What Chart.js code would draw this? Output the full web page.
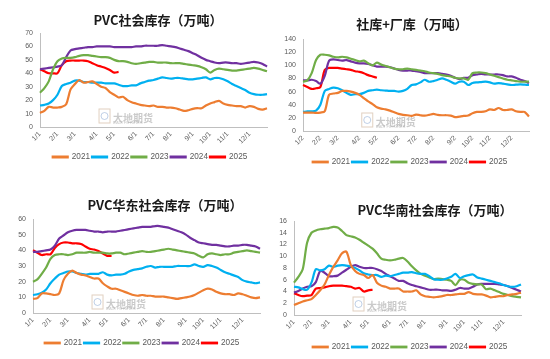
<!DOCTYPE html>
<html>
<head>
<meta charset="utf-8">
<script src="https://cdn.jsdelivr.net/npm/chart.js@4.4.1/dist/chart.umd.min.js"></script>
<style>
    html, body { margin: 0; padding: 0; background: #fff; }
    body { width: 550px; height: 359px; position: relative; overflow: hidden; }
    .cell { position: absolute; width: 275px; }
    .title {
        position: absolute; transform: translate(-50%, -50%); white-space: nowrap;
        font: bold 13px "Noto Sans CJK SC", sans-serif; color: #1a1a1a;
    }
</style>
</head>
<body>
<div class="cell" style="left:0;top:0;height:180px"><canvas id="social"></canvas></div>
<div class="cell" style="left:275px;top:0;height:180px"><canvas id="total"></canvas></div>
<div class="cell" style="left:0;top:180px;height:184px"><canvas id="east"></canvas></div>
<div class="cell" style="left:275px;top:180px;height:184px"><canvas id="south"></canvas></div>

<div class="title" style="left:158px;top:19px">PVC社会库存（万吨）</div>
<div class="title" style="left:412px;top:23px">社库+厂库（万吨）</div>
<div class="title" style="left:165px;top:204px">PVC华东社会库存（万吨）</div>
<div class="title" style="left:435px;top:209px">PVC华南社会库存（万吨）</div>

<script>
// ── Data ────────────────────────────────────────────────
const years = ['2021', '2022', '2023', '2024', '2025'];
const colors = ['#ED7D31', '#00B0F0', '#70AD47', '#7030A0', '#FF0000'];

const monthTicksA = ['1/1', '2/1', '3/1', '4/1', '5/1', '6/1', '7/1', '8/1', '9/1', '10/1', '11/1', '12/1'];
const monthTicksB = ['1/2', '2/2', '3/2', '4/2', '5/2', '6/2', '7/2', '8/2', '9/2', '10/2', '11/2', '12/2'];
const monthWeek = [0, 4, 8, 13, 17, 22, 26, 30, 35, 39, 43, 48];
const WEEKS = 53;

// PVC社会库存 (weekly)
const social2021 = [10.5, 12, 15, 14.5, 14.5, 15, 17, 28, 32, 35, 33, 33.5, 34, 32, 30, 29, 26, 24, 22, 22.5, 20, 18.5, 17.5, 16.5, 16, 15.5, 16, 15, 15, 14.5, 14.5, 14, 13, 12, 12.5, 13.5, 14, 14, 16, 17.5, 18.5, 19.5, 17.5, 16.5, 16, 15.5, 15.5, 14.5, 15.5, 15, 13.5, 13, 14];
const social2022 = [16, 16.5, 17.5, 20, 24, 30.5, 32, 33, 34.5, 34.5, 33.5, 33.5, 33, 33, 33, 32.5, 32.5, 32.5, 31.5, 30.5, 30.5, 31, 31, 32.5, 33.5, 34.5, 35, 36, 37, 36.5, 36, 36.5, 36.5, 36, 35.5, 35.5, 36, 36.5, 37, 35.5, 36.5, 36.5, 35.5, 34, 32, 30.5, 29, 27.5, 25.5, 24.5, 24, 24, 24.5];
const social2023 = [25.5, 29, 34, 43, 49, 51, 51.5, 51.5, 52, 53, 53.5, 53.5, 53, 52.5, 52, 52, 51.5, 50, 49, 49, 48.5, 47.5, 47, 47.5, 48, 48.5, 48.5, 48, 48, 48, 47.5, 47.5, 47.5, 47, 46.5, 46, 45.5, 44.5, 43, 40.5, 42.5, 43.5, 43, 42.5, 42, 42, 42.5, 43, 43.5, 44, 43.5, 42.5, 41.5];
const social2024 = [43, 43.5, 44, 44.5, 45, 46, 52, 57, 58, 58.5, 59, 59.5, 59.5, 60, 60, 60, 60, 59.5, 59.5, 59.5, 59.5, 59.5, 60, 60, 60.5, 60.5, 60.5, 60.5, 61, 60.5, 60, 59.5, 58.5, 57.5, 56.5, 55, 53.5, 51.5, 50, 49, 48, 47.5, 48, 48, 47.5, 47.5, 47, 47.5, 48, 48.5, 48, 47, 45];
const social2025 = [43, 41.5, 40, 40, 40, 46, 49, 49.5, 49.5, 49.5, 49.5, 49, 47.5, 46, 45, 44, 42.5, 40.5, 41];

// 社库+厂库 (weekly)
const total2021 = [28, 28, 28, 27.5, 28, 30, 55, 57, 58, 61, 61, 60, 58, 55, 50, 45, 41, 36, 34, 33, 31, 28.5, 26, 24.5, 24, 23, 25, 24, 23.5, 24.5, 26, 24.5, 24, 24, 23.5, 21, 22, 23, 23.5, 27, 29, 29, 30, 33, 32, 35, 32, 32, 33, 30, 29, 29, 22];
const total2022 = [29, 30, 30, 31, 40, 61, 64, 66, 65, 62, 58, 55, 56, 56, 58, 61, 62, 63, 62, 61.5, 61, 61, 60, 61, 64, 70, 71, 74, 78, 75, 76, 78, 80, 78, 75, 72, 75, 75, 70, 73, 74, 74.5, 75, 74, 72, 73, 72, 71, 70, 70.5, 71, 70.5, 70];
const total2023 = [75, 77, 88, 108, 116, 116, 115, 113, 112, 113, 112, 110, 108, 106, 107, 103, 100, 104, 101, 99, 97, 95, 94, 94, 95, 94, 93, 92, 91, 89, 88, 87, 85, 84, 83, 81, 80, 80, 78, 88, 89, 89, 88, 86, 84, 82, 80, 78, 77, 76, 75, 75, 75];
const total2024 = [77, 77, 78, 76, 72, 84, 107, 109, 108, 107, 108, 106, 104, 103, 103, 102, 100, 98, 98, 98, 97, 95, 93, 92, 92, 92, 91, 90, 88, 88, 88, 88, 87, 86, 84, 81, 79, 81, 81, 85, 86, 87, 86, 86, 86, 86, 85, 83, 83, 81, 78, 76, 73];
const total2025 = [70, 67, 64, 65, 67, 93, 96, 96, 96, 95, 94, 93, 91, 90, 88, 85, 83, 81];

// PVC华东社会库存 (weekly)
const east2021 = [9, 9.5, 12.5, 12.5, 12, 11.5, 12.5, 21, 25, 27, 25.5, 24.5, 24, 23, 22, 22, 19, 17, 15.5, 15.5, 14.5, 13.5, 12.5, 11.5, 11, 11.5, 11, 11, 10.5, 10.5, 10.5, 10, 9.5, 9, 9.5, 10, 10.5, 11.5, 13, 14.5, 15.5, 15, 13.5, 12.5, 12, 12, 11.5, 12.5, 12, 11, 10, 9.5, 10];
const east2022 = [11.5, 12, 13, 15, 19, 22, 24.5, 25.5, 26.5, 26.5, 25.5, 25, 24.5, 25, 25, 25, 26, 24.5, 24, 24.5, 24.5, 25, 26.5, 27.5, 28, 28.5, 29.5, 30, 29, 29.5, 29.5, 29.5, 29.5, 30, 30, 30, 30, 31, 30, 29.5, 30.5, 30, 29, 27.5, 26, 25, 24, 23, 21, 20, 19.5, 19, 19.5];
const east2023 = [20, 21.5, 25, 29, 34.5, 37, 37.5, 37.5, 37, 37.5, 38.5, 38.5, 38.5, 39, 38.5, 38.5, 38.5, 38, 38, 38.5, 38.5, 37.5, 38, 38.5, 39, 39.5, 39, 39, 39.5, 40, 40.5, 41, 40.5, 40, 39.5, 39, 38.5, 38, 36.5, 35.5, 37.5, 38, 37.5, 37, 37.5, 37.5, 38.5, 39, 39.5, 40, 39.5, 39, 38.5];
const east2024 = [39, 39, 39.5, 40, 40.5, 43, 47.5, 49.5, 51.5, 52.5, 53, 53, 53, 52.5, 52, 52, 51.5, 52, 52, 52, 52.5, 53, 53.5, 54, 54.5, 55, 55, 55, 55.5, 55.5, 55, 54.5, 53.5, 52.5, 51.5, 50, 48, 46.5, 45, 44.5, 44, 43.5, 43.5, 43, 42.5, 42.5, 43, 43, 43.5, 43.5, 43, 42.5, 41];
const east2025 = [40, 38.5, 37, 37.5, 37.5, 41.5, 44, 45, 45, 44.5, 44.5, 44, 42.5, 41, 40.5, 39.5, 38, 36.5, 36.5];

// PVC华南社会库存 (weekly)
const south2021 = [1.7, 2, 2.3, 2.5, 2.7, 3.4, 4.2, 5.2, 6.8, 8.2, 9.3, 10.5, 10.8, 8.5, 7.5, 7, 6.8, 6.3, 6.8, 5.5, 5, 4.8, 4.5, 4.5, 4.5, 4, 4, 4, 4.2, 3.5, 3.2, 3.1, 3, 3.1, 3.2, 3.4, 3.4, 3.5, 3.6, 3.6, 3.9, 3.6, 3.5, 3.5, 3.3, 3, 3.1, 3.2, 3.2, 3.4, 3.5, 3.6, 3.8];
const south2022 = [4.8, 4.7, 4.4, 4.3, 5.5, 7.8, 7.6, 7.8, 8.4, 8.2, 8.4, 8.5, 8.4, 8.3, 8, 7.6, 7.1, 6.9, 6.8, 6.8, 6.5, 6.7, 6.6, 6.8, 7, 7.2, 7.2, 7.3, 7.1, 7, 7, 6.6, 6.1, 6, 6, 6.2, 6.5, 7, 6.3, 6.6, 6.8, 6.9, 6.4, 6.2, 6, 5.8, 5.6, 5.4, 5.1, 4.9, 4.8, 4.9, 5.2];
const south2023 = [5.5, 6.5, 7.8, 12.3, 14, 14.4, 14.6, 14.7, 14.8, 15, 14.9, 14.3, 13.6, 13.4, 13.2, 12.8, 12.3, 11.8, 11.3, 10.5, 9.6, 9.4, 9.3, 9.4, 9.6, 9.7, 9.1, 8.3, 7.6, 7, 6.7, 6.4, 6.1, 6.2, 6.1, 6, 5.8, 5.1, 6, 6, 5.5, 5.3, 5.2, 5.2, 4.4, 4.5, 4.2, 3.9, 3.6, 3.4, 3.2, 3.1, 3];
const south2024 = [3.8, 4.1, 4.5, 4.8, 4.9, 5.6, 7.5, 7.2, 6.6, 6.6, 6.7, 7.2, 7.7, 8.2, 8.5, 8.2, 8, 8, 8, 7.8, 7.5, 7, 6.6, 6.2, 5.8, 5.8, 5.4, 5.1, 4.9, 4.7, 4.5, 4.3, 4.3, 4.3, 4.2, 4.2, 4.1, 4.3, 4.6, 4.5, 4.5, 4.8, 5.2, 5.3, 5.3, 5.3, 5.3, 5.2, 5.1, 4.9, 4.6, 4.3, 4];
const south2025 = [3.7, 3.4, 3.2, 3.3, 3.4, 4.5, 4.6, 4.7, 4.9, 5, 5, 5, 4.9, 4.8, 4.5, 4.6, 4.0, 4.2, 4.3];

// ── Shared styling ──────────────────────────────────────
const tickFont = { size: 7, family: 'Liberation Sans' };
const tickColor = '#595959';
const LEG_FONT = 8.2;
const LEG_PAD = 2;

// faint "大地期货" mark behind the lines
const watermark = {
    id: 'watermark',
    beforeDatasetsDraw(chart) {
        const { ctx, chartArea: a } = chart;
        const x = a.left + a.width * 0.26;
        const y = a.bottom - 4;
        ctx.save();
        ctx.strokeStyle = 'rgba(200,170,140,0.55)';
        ctx.lineWidth = 1;
        ctx.strokeRect(x, y - 14, 11, 14);
        ctx.strokeStyle = 'rgba(140,170,210,0.55)';
        ctx.beginPath();
        ctx.arc(x + 5.5, y - 7, 3.5, 0, Math.PI * 2);
        ctx.stroke();
        ctx.fillStyle = 'rgba(150,150,150,0.5)';
        ctx.font = 'bold 10px "Noto Sans CJK SC"';
        ctx.fillText('大地期货', x + 14, y - 5);
        ctx.font = '4px "Liberation Sans"';
        ctx.fillText('DADI FUTURES', x + 14, y);
        ctx.restore();
    }
};

// legend sits a little right of the canvas centre in the original
const legendShift = {
    id: 'legendShift',
    afterLayout(chart, args, opts) {
        const l = chart.legend;
        if (l) { l.left += opts.dx; l.right += opts.dx; }
    }
};

function weekLabels(ticks) {
    return Array.from({ length: WEEKS }, (_, i) => {
        const m = monthWeek.indexOf(i);
        return m >= 0 ? ticks[m] : '';
    });
}

// turn wanted plot / legend positions (canvas px) into padding + box sizes
function boxFor(b) {
    const legTop = b.legendY - (LEG_PAD + LEG_FONT / 2);
    return {
        pad: { left: b.padL, right: 275 - b.right, top: b.top, bottom: b.H - legTop - (LEG_FONT + LEG_PAD + 10) },
        xh: legTop - b.bottom,
        yw: b.left - b.padL,
        dx: b.legendX - (b.padL + b.right) / 2
    };
}

// ── Chart builder ───────────────────────────────────────
function buildChart(id, ticks, series, axis, place) {
    const box = boxFor(place);
    return new Chart(document.getElementById(id), {
        type: 'line',
        data: {
            labels: weekLabels(ticks),
            datasets: series.map((data, k) => ({
                label: years[k],
                data,
                borderColor: colors[k],
                backgroundColor: colors[k],
                borderWidth: 2.2,
                pointRadius: 0,
                tension: 0.3,
                fill: false
            }))
        },
        options: {
            responsive: true,
            maintainAspectRatio: false,
            animation: false,
            layout: { padding: box.pad },
            plugins: {
                legend: {
                    position: 'bottom',
                    labels: {
                        boxWidth: 15, boxHeight: 0.6, padding: LEG_PAD,
                        color: tickColor, font: { size: LEG_FONT, family: 'Liberation Sans' }
                    }
                },
                legendShift: { dx: box.dx },
                tooltip: { enabled: false }
            },
            scales: {
                x: {
                    grid: { display: false, drawTicks: false },
                    border: { color: '#bfbfbf' },
                    ticks: {
                        autoSkip: false, minRotation: 45, maxRotation: 45, padding: 3,
                        color: tickColor, font: tickFont
                    },
                    afterFit: s => { s.height = box.xh; s.paddingLeft = 0; s.paddingRight = 0; }
                },
                y: {
                    min: 0,
                    max: axis.max,
                    grid: { display: false, drawTicks: false },
                    border: { color: '#bfbfbf' },
                    ticks: { stepSize: axis.step, padding: 7, color: tickColor, font: tickFont },
                    afterFit: s => { s.width = box.yw; s.paddingTop = 0; s.paddingBottom = 0; }
                }
            }
        },
        plugins: [watermark, legendShift]
    });
}

buildChart('social', monthTicksA,
    [social2021, social2022, social2023, social2024, social2025],
    { max: 70, step: 10 },
    { H: 180, padL: 4, left: 40, right: 267, top: 33, bottom: 127, legendX: 150, legendY: 157 });

buildChart('total', monthTicksB,
    [total2021, total2022, total2023, total2024, total2025],
    { max: 140, step: 20 },
    { H: 180, padL: 2, left: 28, right: 254, top: 39, bottom: 131, legendX: 135, legendY: 162 });

buildChart('east', monthTicksA,
    [east2021, east2022, east2023, east2024, east2025],
    { max: 60, step: 10 },
    { H: 184, padL: 2, left: 33, right: 260, top: 39, bottom: 133, legendX: 142, legendY: 163 });

buildChart('south', monthTicksA,
    [south2021, south2022, south2023, south2024, south2025],
    { max: 16, step: 2 },
    { H: 184, padL: 2, left: 19, right: 246, top: 41, bottom: 135, legendX: 135, legendY: 167 });
</script>
</body>
</html>
